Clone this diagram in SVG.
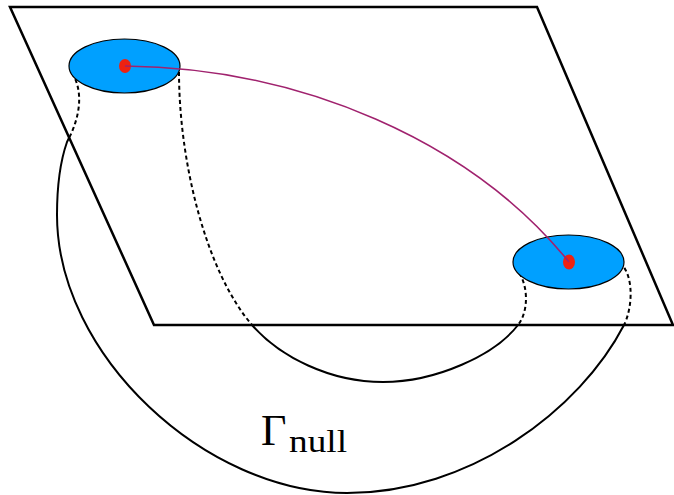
<svg xmlns="http://www.w3.org/2000/svg" width="674" height="495" viewBox="0 0 674 495">
<style>
.plane{fill:none;stroke:#000;stroke-width:2.5;stroke-linejoin:miter}
.disk{fill:#00a0ff;stroke:#000;stroke-width:1.2}
.dot{fill:#ee2211}
.curve{fill:none;stroke:#000;stroke-width:2}
.hidden{stroke-dasharray:4 3}
.geo{fill:none;stroke:#a0226e;stroke-width:1.6}
.lbl{font-family:"Liberation Serif","DejaVu Serif",serif;fill:#000}
</style>
<defs>
<clipPath id="inside"><polygon points="10,7 537,7 673,325 154,325"/></clipPath>
<clipPath id="outside"><path clip-rule="evenodd" d="M-10,-10H690V510H-10Z M10,7 L537,7 L673,325 L154,325Z"/></clipPath>
<path id="outerPath" d="M72,73 C84,92 80,118 67,142 C60,162 57,190 57,215 C57,355 205,493 347,493 C470,493 580,410 624,325 C632,309 634,280 623,266"/>
<path id="innerPath" d="M179,72 C179,160 205,270 252,325 C280,357 330,382 383,382 C436,382 495,355 518,325 C530,310 528,280 515,268"/>
</defs>
<g id="plane">
<polygon class="plane" points="10,7 537,7 673,325 154,325"/>
</g>
<g id="connectors">
<g clip-path="url(#inside)">
<use href="#outerPath" class="curve hidden"/>
<use href="#innerPath" class="curve hidden"/>
</g>
<g clip-path="url(#outside)">
<use href="#outerPath" class="curve"/>
<use href="#innerPath" class="curve"/>
</g>
</g>
<g id="disk1">
<ellipse class="disk" cx="124.5" cy="66" rx="55.5" ry="27"/>
<ellipse class="dot" cx="125" cy="66" rx="6" ry="7"/>
</g>
<g id="disk2">
<ellipse class="disk" cx="568.5" cy="262" rx="55.5" ry="27"/>
<ellipse class="dot" cx="569" cy="262" rx="6" ry="7.5"/>
</g>
<g id="geodesic">
<path class="geo" d="M125,66 C300,68 470,140 569,262"/>
</g>
<g id="label">
<text class="lbl" x="261" y="445" font-size="44">Γ</text>
<text class="lbl" x="289" y="452" font-size="31" textLength="58" lengthAdjust="spacingAndGlyphs">null</text>
</g>
</svg>
